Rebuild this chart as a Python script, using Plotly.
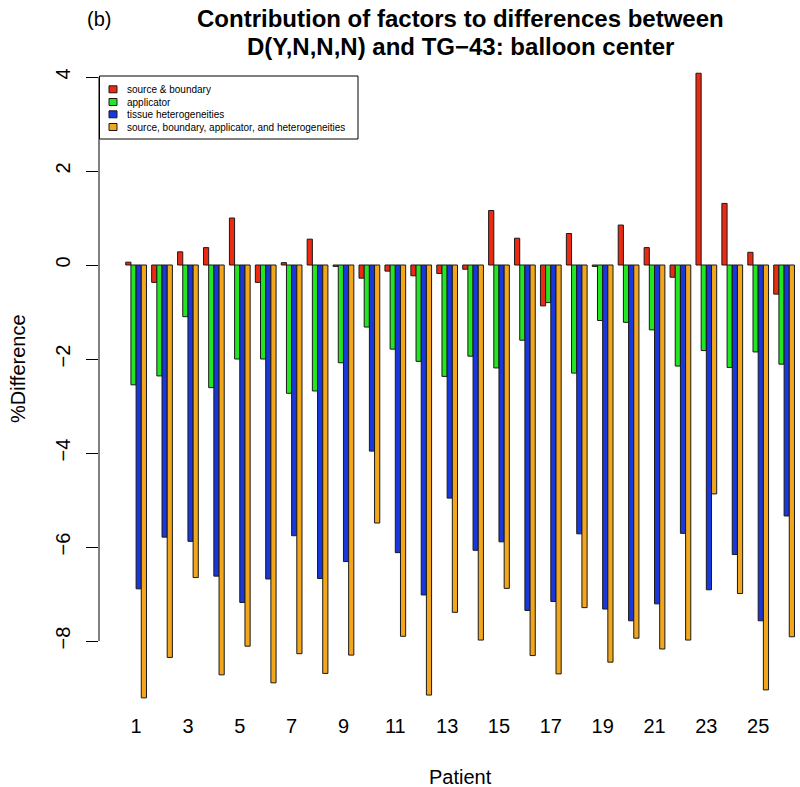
import plotly.graph_objects as go

patients = list(range(1, 27))
series_names = ["source & boundary", "applicator", "tissue heterogeneities",
                "source, boundary, applicator, and heterogeneities"]
source_boundary = [0.06, -0.37, 0.28, 0.37, 1.00, -0.37, 0.05, 0.55, -0.03, -0.28,
                   -0.13, -0.23, -0.18, -0.09, 1.16, 0.57, -0.87, 0.67, -0.03, 0.85,
                   0.37, -0.26, 4.08, 1.31, 0.27, -0.62]
applicator = [-2.55, -2.36, -1.10, -2.61, -2.00, -2.00, -2.73, -2.68, -2.08, -1.32,
              -1.79, -2.05, -2.37, -1.94, -2.19, -1.60, -0.80, -2.30, -1.18, -1.22,
              -1.38, -2.15, -1.82, -2.18, -1.85, -2.11]
tissue = [-6.89, -5.79, -5.88, -6.62, -7.18, -6.68, -5.76, -6.67, -6.31, -3.96,
          -6.12, -7.02, -4.96, -6.07, -5.89, -7.35, -7.16, -5.72, -7.32, -7.57,
          -7.21, -5.71, -6.91, -6.16, -7.57, -5.34]
combined = [-9.21, -8.35, -6.65, -8.72, -8.11, -8.89, -8.27, -8.69, -8.30, -5.49,
            -7.90, -9.15, -7.39, -7.98, -6.88, -8.31, -8.70, -7.29, -8.45, -7.94,
            -8.17, -7.98, -4.87, -6.99, -9.04, -7.91]
y_ticks = [-8, -6, -4, -2, 0, 2, 4]
x_ticks = list(range(1, 27, 2))

colors = ["#EC2A12", "#22E622", "#1838DC", "#F2A61C"]
series = [source_boundary, applicator, tissue, combined]

W, H = 800, 787
L, R, T, B = 99, 0, 48, 82
FONT = "Liberation Sans, Arial, sans-serif"

fig = go.Figure()
for name, vals, c in zip(series_names, series, colors):
    fig.add_trace(go.Bar(x=patients, y=vals, name=name, marker_color=c,
                         marker_line_color="#1a1a1a", marker_line_width=1,
                         showlegend=False))

plot_w = W - L - R
plot_h = H - T - B

def px(xp):
    return (xp - L) / plot_w

def py(yp):
    return (H - B - yp) / plot_h

shapes = [dict(type="line", xref="paper", yref="y", x0=0, x1=0,
               y0=min(y_ticks), y1=max(y_ticks), line=dict(color="black", width=1))]
annotations = []
# legend box
shapes.append(dict(type="rect", xref="paper", yref="paper", x0=px(99.5), x1=px(358),
                   y0=py(139), y1=py(76), line=dict(color="black", width=1),
                   fillcolor="white", layer="above"))
leg_rows = [89.3, 102, 114.3, 127]
for name, c, yy in zip(series_names, colors, leg_rows):
    shapes.append(dict(type="rect", xref="paper", yref="paper", x0=px(109), x1=px(117),
                       y0=py(yy + 3.5), y1=py(yy - 3.5),
                       line=dict(color="#1a1a1a", width=1), fillcolor=c, layer="above"))
    annotations.append(dict(text=name, xref="paper", yref="paper", x=px(125), y=py(yy),
                            xanchor="left", yanchor="middle", showarrow=False,
                            font=dict(family=FONT, size=10, color="black")))

annotations += [
    dict(text="<b>Contribution of factors to differences between</b>", xref="paper", yref="paper",
         x=px(460), y=py(19), xanchor="center", yanchor="middle", showarrow=False,
         font=dict(family=FONT, size=24, color="black")),
    dict(text="<b>D(Y,N,N,N) and TG\u221243: balloon center</b>", xref="paper", yref="paper",
         x=px(460), y=py(47), xanchor="center", yanchor="middle", showarrow=False,
         font=dict(family=FONT, size=24, color="black")),
    dict(text="(b)", xref="paper", yref="paper", x=px(99), y=py(19),
         xanchor="center", yanchor="middle", showarrow=False,
         font=dict(family=FONT, size=20, color="black")),
    dict(text="Patient", xref="paper", yref="paper", x=px(460), y=py(777),
         xanchor="center", yanchor="middle", showarrow=False,
         font=dict(family=FONT, size=20, color="black")),
    dict(text="%Difference", xref="paper", yref="paper", x=px(18), y=py(369),
         xanchor="center", yanchor="middle", showarrow=False, textangle=-90,
         font=dict(family=FONT, size=20, color="black")),
]

y_top = (265 - T) / 47.0
y_bot = -(H - B - 265) / 47.0
x_left = 1 + (L - 136.1) / 25.92
x_right = 1 + (W - R - 136.1) / 25.92

fig.update_layout(
    width=W, height=H,
    margin=dict(l=L, r=R, t=T, b=B, pad=0),
    paper_bgcolor="white", plot_bgcolor="white",
    barmode="group", bargap=0.2, bargroupgap=0,
    font=dict(family=FONT, size=20, color="black"),
    xaxis=dict(range=[x_left, x_right], tickmode="array", tickvals=x_ticks,
               ticktext=[str(v) for v in x_ticks], showgrid=False, zeroline=False,
               showline=False, ticks="", ticklabelstandoff=7,
               tickfont=dict(family=FONT, size=20, color="black")),
    yaxis=dict(range=[y_bot, y_top], tickmode="array", tickvals=y_ticks,
               ticktext=[str(v).replace("-", "\u2212") for v in y_ticks],
               showgrid=False, zeroline=False, showline=False,
               ticks="outside", ticklen=12, tickwidth=1, tickcolor="black",
               tickangle=-90, ticklabelstandoff=8,
               tickfont=dict(family=FONT, size=20, color="black")),
    shapes=shapes, annotations=annotations,
)

fig.write_html("out.html", config={"displayModeBar": False},
               post_script="document.body.style.margin='0';document.body.style.padding='0';")
